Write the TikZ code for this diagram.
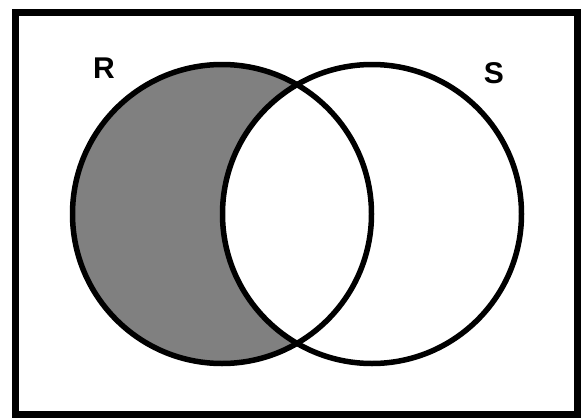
\documentclass[tikz,border=0pt]{standalone}
\usepackage{fontspec}
\setmainfont{Liberation Sans}
\begin{document}
\begin{tikzpicture}[x=1pt,y=-1pt,
  setline/.style={line width=5.5pt,draw=black},
  frame/.style={line width=7pt,draw=black},
  shade/.style={fill=gray},
  lbl/.style={font=\bfseries\fontsize{30}{32}\selectfont,inner sep=0pt}]
\useasboundingbox (0,0) rectangle (584,418);
\fill[white] (0,0) rectangle (584,418);
\draw[frame] (15.5,12.5) rectangle (577,414);
\coordinate (cR) at (222,214);
\coordinate (cS) at (372,214);
\fill[shade] (cR) circle[radius=149.5];
\fill[white] (cS) circle[radius=149.5];
\draw[setline] (cR) circle[radius=149.5];
\draw[setline] (cS) circle[radius=149.5];
\node[lbl] (R) at (104,68) {R};
\node[lbl] (S) at (494,73) {S};
\end{tikzpicture}
\end{document}
